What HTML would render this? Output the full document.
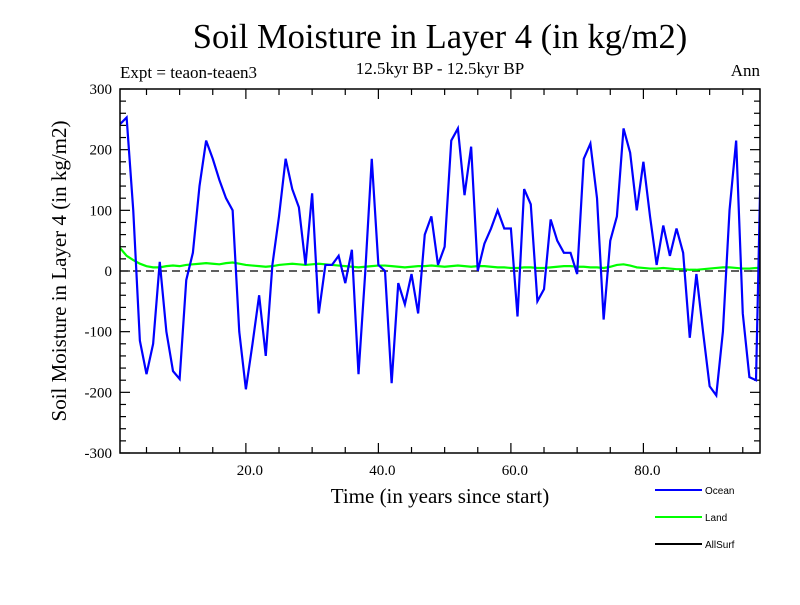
<!DOCTYPE html>
<html><head><meta charset="utf-8"><style>
body{margin:0;background:#fff}
svg text{font-family:"Liberation Serif",serif}
</style></head><body>
<svg id="c" width="800" height="600" xmlns="http://www.w3.org/2000/svg">
<rect width="800" height="600" fill="#fff"/>
<text x="440" y="48" font-size="34.5" text-anchor="middle">Soil Moisture in Layer 4 (in kg/m2)</text>
<text x="440" y="74" font-size="17" text-anchor="middle">12.5kyr BP - 12.5kyr BP</text>
<text x="120" y="78" font-size="17">Expt = teaon-teaen3</text>
<text x="760" y="76" font-size="17" text-anchor="end">Ann</text>
<text transform="translate(66,271) rotate(-90)" font-size="21" text-anchor="middle">Soil Moisture in Layer 4 (in kg/m2)</text>
<text x="440" y="503" font-size="21" text-anchor="middle">Time (in years since start)</text>
<g id="axes"></g>
<g id="series"></g>
<rect x="120" y="89" width="640" height="364" fill="none" stroke="#000" stroke-width="1.5"/>
<g>
<line x1="655" y1="490" x2="702" y2="490" stroke="#0000ff" stroke-width="2"/>
<text x="705" y="494" font-size="10" style="font-family:'Liberation Sans',sans-serif">Ocean</text>
<line x1="655" y1="517" x2="702" y2="517" stroke="#00ff00" stroke-width="2"/>
<text x="705" y="521" font-size="10" style="font-family:'Liberation Sans',sans-serif">Land</text>
<line x1="655" y1="544" x2="702" y2="544" stroke="#000" stroke-width="2"/>
<text x="705" y="548" font-size="10" style="font-family:'Liberation Sans',sans-serif">AllSurf</text>
</g>
</svg>
<script>
const ocean=[242,253,100,-115,-170,-120,15,-100,-165,-178,-15,30,140,215,185,150,120,100,-100,-195,-120,-40,-140,10,90,185,135,105,10,128,-70,10,10,25,-20,35,-170,-5,185,10,0,-185,-20,-55,-5,-70,60,90,10,40,215,235,125,205,0,45,70,100,70,70,-75,135,110,-50,-30,85,50,30,30,-5,185,210,120,-80,50,90,235,195,100,180,90,10,75,25,70,30,-110,-5,-100,-190,-205,-100,100,215,-70,-175,-180,330];
const land=[38,25,18,12,8,6,6,8,9,8,10,11,12,13,12,11,13,14,12,10,9,8,7,8,10,11,12,11,10,11,12,11,10,9,8,7,6,7,8,9,9,8,7,6,7,8,8,9,8,7,8,9,8,7,8,8,7,6,6,5,5,6,6,5,5,6,7,8,8,7,7,6,6,5,7,10,11,9,6,5,4,4,5,4,3,3,2,2,3,4,5,6,6,5,4,4,5,5];
const yTicks=[-300,-200,-100,0,100,200,300];
const xTicks=[20,40,60,80];
const xTickLabels=["20.0","40.0","60.0","80.0"];
const X0=120,X1=760,Y0=453,Y1=89,XMIN=1,XMAX=97.6;
const xs=v=>X0+(v-XMIN)/(XMAX-XMIN)*(X1-X0);
const ys=v=>Y0-(v+300)/600*(Y0-Y1);
const NS="http://www.w3.org/2000/svg";
const svg=document.getElementById('c');
const axes=document.getElementById('axes');
const ser=document.getElementById('series');
function mk(t,a,p){const e=document.createElementNS(NS,t);for(const k in a)e.setAttribute(k,a[k]);p.appendChild(e);return e;}
const defs=mk('defs',{},svg);
const cp=mk('clipPath',{id:'clip'},defs);
mk('rect',{x:X0,y:Y1,width:X1-X0,height:Y0-Y1},cp);
for(let v=-300;v<=300;v+=20){
  const y=ys(v),L=(v%100===0)?10:6;
  let t=mk('line',{x1:X0,y1:y,x2:X0+L,y2:y,stroke:'#000','stroke-width':1.2},axes);
  
  
  t=mk('line',{x1:X1,y1:y,x2:X1-L,y2:y,stroke:'#000','stroke-width':1.2},axes);
  
  
}
yTicks.forEach(v=>{
  const t=mk('text',{x:X0-8,y:ys(v)+5,'font-size':15,'text-anchor':'end'},axes);
  t.textContent=String(v);
  
  
});
for(let v=5;v<XMAX;v+=5){
  const x=xs(v),L=(v%20===0)?10:6;
  let t=mk('line',{x1:x,y1:Y0,x2:x,y2:Y0-L,stroke:'#000','stroke-width':1.2},axes);
  
  
  t=mk('line',{x1:x,y1:Y1,x2:x,y2:Y1+L,stroke:'#000','stroke-width':1.2},axes);
  
  
}
xTicks.forEach((v,i)=>{
  const t=mk('text',{x:xs(v)+4,y:Y0+22,'font-size':15,'text-anchor':'middle'},axes);
  t.textContent=xTickLabels[i];
  
  
});
const z=mk('line',{x1:X0,y1:ys(0),x2:X1,y2:ys(0),stroke:'#000','stroke-width':1.2,'stroke-dasharray':'8,5'},ser);


function pl(arr,col,name){
  const p=mk('polyline',{points:arr.map((v,i)=>xs(i+1)+','+ys(v)).join(' '),fill:'none',stroke:col,'stroke-width':2.2,'clip-path':'url(#clip)'},ser);
  
  
}
pl(land,'#00ff00','land-line');
pl(ocean,'#0000ff','ocean-line');
</script>
</body></html>
